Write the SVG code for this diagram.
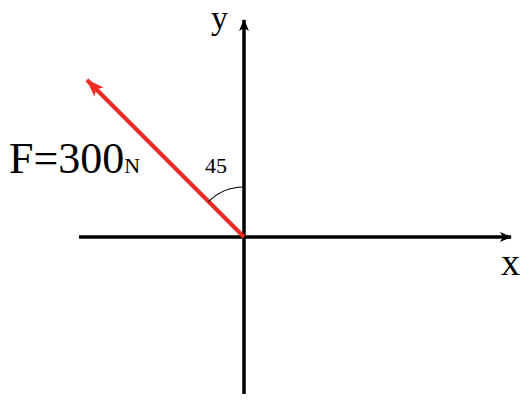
<svg xmlns="http://www.w3.org/2000/svg" width="520" height="400" viewBox="0 0 520 400">
<style>
.axis{stroke:#000;stroke-width:3.5;fill:none}
.force{stroke:#ee2a24;stroke-width:4;fill:none}
.arc{stroke:#000;stroke-width:1.2;fill:none}
.lbl{font-family:"Liberation Serif","Times New Roman",serif;fill:#000}
</style>
<defs>
<marker id="ah" viewBox="0 0 12 10" refX="11" refY="5" markerWidth="12" markerHeight="10" markerUnits="userSpaceOnUse" orient="auto">
<path d="M0,0 L12,5 L0,10 L3,5 Z" fill="#000"/>
</marker>
<marker id="ahr" viewBox="0 0 18 13" refX="17" refY="6.5" markerWidth="18" markerHeight="13" markerUnits="userSpaceOnUse" orient="auto">
<path d="M0,0 L18,6.5 L0,13 L4,6.5 Z" fill="#ee2a24"/>
</marker>
</defs>
<rect width="520" height="400" fill="#fff"/>
<g id="connectors">
<line id="x-axis" class="axis" x1="79" y1="237" x2="511" y2="237" marker-end="url(#ah)"/>
<line id="y-axis" class="axis" x1="244" y1="394" x2="244" y2="20" marker-end="url(#ah)"/>
<line id="force" class="force" x1="244" y1="237" x2="87" y2="80" marker-end="url(#ahr)"/>
<path id="angle-arc" class="arc" d="M208.6,201.6 A50,50 0 0 1 244,187"/>
</g>
<g id="labels">
<text class="lbl" x="211" y="29" font-size="34">y</text>
<text class="lbl" x="501" y="275" font-size="38">x</text>
<text class="lbl" x="205" y="173" font-size="22">45</text>
<text class="lbl" x="9" y="173" font-size="44">F=300<tspan font-size="22">N</tspan></text>
</g>
</svg>
